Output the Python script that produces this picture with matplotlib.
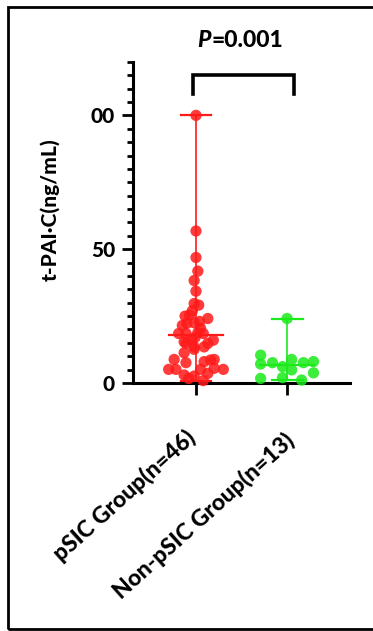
import numpy as np
import matplotlib
matplotlib.use("Agg")
import matplotlib.pyplot as plt
from matplotlib.patches import Rectangle
from matplotlib.ticker import MultipleLocator

plt.rcParams['font.family'] = ['Lato', 'DejaVu Sans']
W = 'black'

# Data (value, horizontal jitter in category units)
groups = ['pSIC Group(n=46)', 'Non-pSIC Group(n=13)']

psic_values = [100, 56.8, 46.9, 41.8, 38.3, 34.3, 29.7, 29.1, 25.0, 25.4,
               24.1, 22.3, 22.5, 18.5, 18.5, 18.8, 18.5, 15.4, 16.3, 16.0,
               14.8, 14.8, 13.5, 13.5, 11.3, 12.6, 8.8, 8.8, 7.6, 8.0,
               8.6, 5.1, 5.1, 5.1, 5.1, 5.5, 3.0, 2.6, 3.6, 1.7,
               0.9, 20.5, 21.5, 23.0, 17.0, 27.0]
psic_jitter = [0, 0, 0, 0.02, -0.02, 0, -0.02, 0.03, -0.12, -0.07,
               0.13, -0.10, -0.02, -0.19, -0.11, 0.02, 0.08, -0.13, -0.05, 0.19,
               0.13, -0.11, -0.02, 0.09, -0.13, -0.02, -0.24, 0.20, -0.11, 0.09,
               0.16, -0.30, -0.22, 0.30, 0.05, 0.20, -0.13, -0.02, 0.13, -0.08,
               0.08, 0.05, -0.15, 0.04, -0.01, -0.04]

non_values = [24.1, 10.4, 7.1, 7.6, 6.1, 8.8, 7.6, 8.0, 4.9, 3.8, 1.7, 2.0, 1.1]
non_jitter = [0, -0.29, -0.29, -0.16, -0.05, 0.05, 0.18, 0.29, 0.05, 0.29,
              -0.29, -0.05, 0.16]

medians = [18.0, 6.6]
colors = ['#ff1a1a', '#1aea1a']
p_value = '=0.001'

fig = plt.figure(figsize=(3.73, 6.31), dpi=100)
ax = fig.add_axes([0.357, 0.393, 0.581, 0.509])

all_values = [psic_values, non_values]
all_jitter = [psic_jitter, non_jitter]
for i, (vals, jit) in enumerate(zip(all_values, all_jitter)):
    vals = np.array(vals)
    xs = i + np.array(jit)
    c = colors[i]
    # median line and range whiskers
    ax.plot([i - 0.3, i + 0.3], [medians[i], medians[i]], color=c, lw=1.6, zorder=2)
    ax.plot([i, i], [vals.min(), vals.max()], color=c, lw=1.2, zorder=2)
    for v in (vals.min(), vals.max()):
        ax.plot([i - 0.17, i + 0.17], [v, v], color=c, lw=1.6, zorder=2)
    ax.scatter(xs, vals, s=66, color=c, alpha=0.85, edgecolors='none', zorder=3,
               clip_on=False)

# significance bracket
ax.plot([-0.03, -0.03, 1.08, 1.08], [107.8, 114.9, 114.9, 107.8], color='black',
        lw=2.6, clip_on=False, solid_joinstyle='miter')
ax.text(0.165, 128, 'P', ha='right', va='center', fontsize=16.5,
        fontweight=W, fontstyle='italic', clip_on=False)
ax.text(0.165, 128, p_value, ha='left', va='center', fontsize=16.5,
        fontweight=W, clip_on=False)

ax.set_xlim(-0.69, 1.69)
ax.set_ylim(0, 120)
ax.set_yticks([0, 50, 100])
ax.set_yticklabels(['0', '50', '00'])
ax.yaxis.set_minor_locator(MultipleLocator(5))
ax.set_xticks([0, 1])
ax.set_xticklabels([])
for lab in ax.get_yticklabels():
    lab.set_fontsize(15)
    lab.set_fontweight(W)

# rotated group labels
label_offsets = [(-8, -31), (-2, -33)]
for i, name in enumerate(groups):
    ax.annotate(name, xy=(i, 0), xytext=label_offsets[i], textcoords='offset points',
                ha='right', va='top', rotation=42, rotation_mode='anchor',
                fontsize=16.5, fontweight=W, annotation_clip=False)

ax.spines['top'].set_visible(False)
ax.spines['right'].set_visible(False)
ax.spines['left'].set_linewidth(2.2)
ax.spines['bottom'].set_linewidth(2.2)
ax.tick_params(axis='y', which='major', length=8, width=2, pad=5)
ax.tick_params(axis='y', which='minor', length=4.5, width=2)
ax.tick_params(axis='x', which='major', length=8.5, width=2)
ax.set_ylabel('t-PAI·C(ng/mL)', fontsize=15, fontweight=W)
ax.yaxis.set_label_coords(-0.34, 0.54)

fig.patches.append(Rectangle((8 / 373, 1 - 629 / 631), 400 / 373, 622 / 631,
                             transform=fig.transFigure, fill=False,
                             edgecolor='black', lw=2))

fig.savefig('out.png', dpi=100)
